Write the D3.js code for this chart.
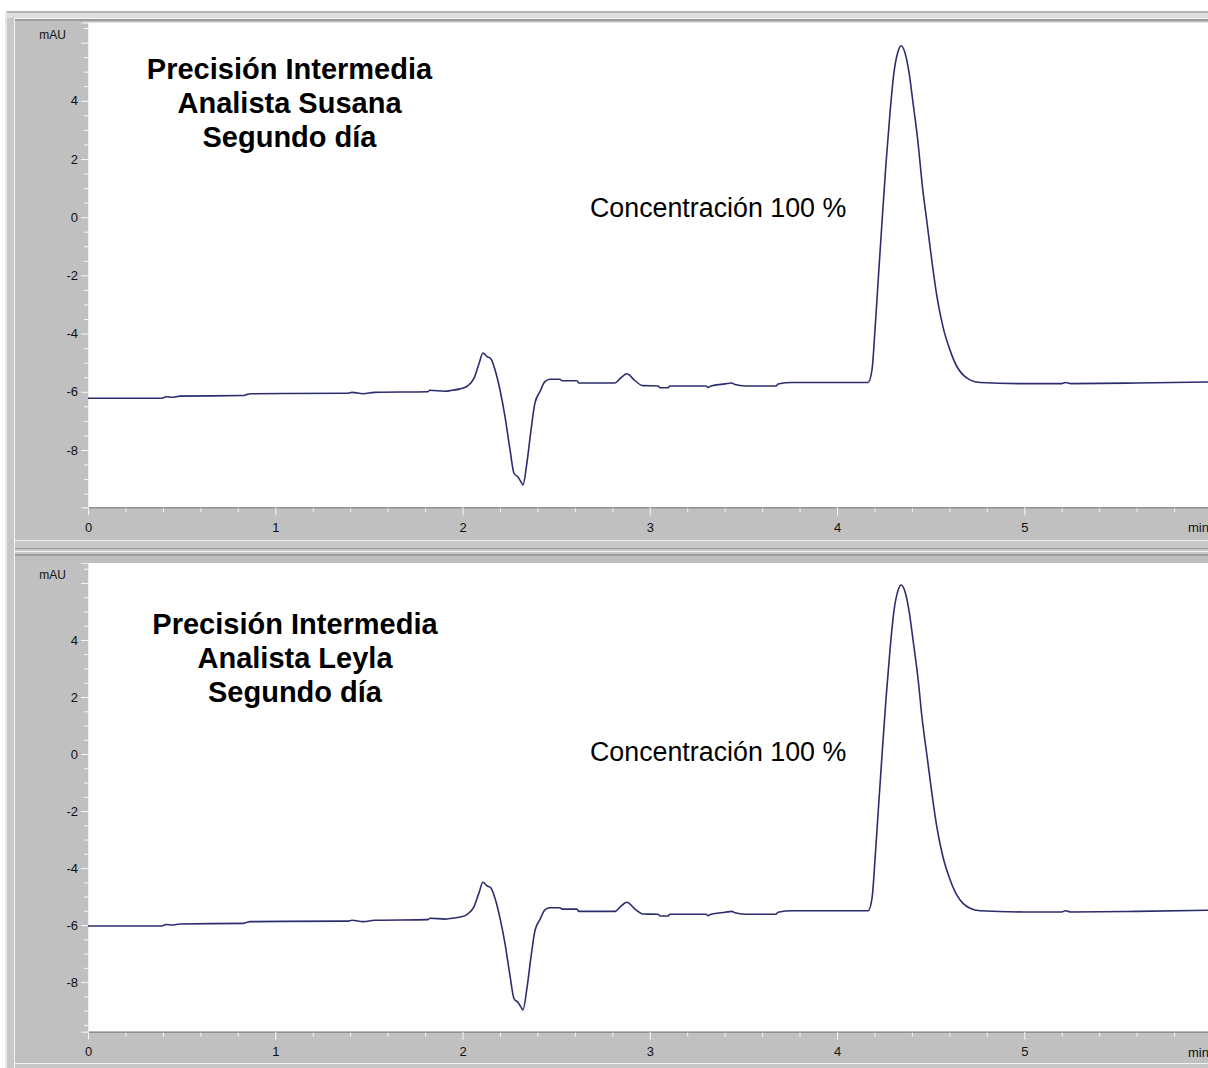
<!DOCTYPE html>
<html>
<head>
<meta charset="utf-8">
<script src="https://cdn.jsdelivr.net/npm/d3@7"></script>
<style>
  body { margin: 0; background: #fff; overflow: hidden; }
  svg { display: block; }
</style>
</head>
<body>
<svg id="chart" width="1208" height="1068"></svg>
<script>
// Retention time (min) shared by both chromatograms
const timeMin = [
  0, 0.395, 0.416, 0.449, 0.491, 0.828, 0.85, 0.866, 1.389, 1.41,
  1.47, 1.53, 1.815, 1.826, 1.906, 1.944, 1.987, 2.024, 2.061, 2.088,
  2.109, 2.131, 2.152, 2.174, 2.2, 2.227, 2.254, 2.275, 2.296, 2.312,
  2.323, 2.344, 2.366, 2.387, 2.414, 2.44, 2.467, 2.52, 2.531, 2.611,
  2.622, 2.814, 2.841, 2.878, 2.921, 2.964, 3.044, 3.055, 3.098, 3.108,
  3.3, 3.311, 3.327, 3.402, 3.439, 3.455, 3.509, 3.674, 3.685, 3.76,
  4.166, 4.187, 4.203, 4.219, 4.24, 4.262, 4.283, 4.304, 4.326, 4.342,
  4.363, 4.385, 4.406, 4.433, 4.454, 4.481, 4.508, 4.534, 4.566, 4.603,
  4.641, 4.673, 4.71, 4.764, 5.0, 5.2, 5.22, 5.25, 5.6, 6.0
];

// Detector signal (mAU), analyst Susana
const susanaMAU = [
  -6.22, -6.22, -6.17, -6.19, -6.15, -6.13, -6.09, -6.07, -6.05, -6.02,
  -6.07, -6.02, -6.00, -5.95, -5.98, -5.95, -5.90, -5.81, -5.54, -5.04,
  -4.67, -4.79, -4.87, -5.25, -5.93, -6.85, -8.00, -8.80, -8.93, -9.09,
  -9.20, -8.44, -7.31, -6.38, -5.99, -5.65, -5.57, -5.57, -5.62, -5.62,
  -5.70, -5.70, -5.55, -5.38, -5.62, -5.79, -5.80, -5.86, -5.86, -5.80,
  -5.80, -5.85, -5.80, -5.73, -5.70, -5.75, -5.80, -5.80, -5.73, -5.68,
  -5.68, -5.24, -3.87, -2.26, -0.20, 1.87, 3.58, 4.96, 5.69, 5.89,
  5.65, 4.96, 3.93, 2.55, 1.18, -0.20, -1.57, -2.74, -3.77, -4.56,
  -5.14, -5.42, -5.59, -5.68, -5.72, -5.72, -5.68, -5.72, -5.70, -5.66
];

// Detector signal (mAU), analyst Leyla
const leylaMAU = [
  -6.03, -6.03, -5.98, -6.00, -5.96, -5.94, -5.90, -5.88, -5.86, -5.83,
  -5.88, -5.83, -5.81, -5.76, -5.79, -5.76, -5.72, -5.63, -5.36, -4.87,
  -4.50, -4.62, -4.70, -5.07, -5.75, -6.65, -7.79, -8.58, -8.71, -8.87,
  -8.98, -8.22, -7.11, -6.19, -5.80, -5.47, -5.39, -5.39, -5.44, -5.44,
  -5.52, -5.52, -5.37, -5.20, -5.44, -5.61, -5.62, -5.68, -5.68, -5.62,
  -5.62, -5.67, -5.62, -5.55, -5.52, -5.57, -5.62, -5.62, -5.55, -5.50,
  -5.50, -5.06, -3.71, -2.12, -0.08, 1.96, 3.65, 5.01, 5.74, 5.93,
  5.70, 5.01, 4.00, 2.63, 1.28, -0.08, -1.44, -2.59, -3.61, -4.39,
  -4.96, -5.24, -5.41, -5.50, -5.54, -5.54, -5.50, -5.54, -5.52, -5.48
];

// Axis ticks and labels
const xMajorTicks = [0, 1, 2, 3, 4, 5, 6];
const yMajorTicks = [-8, -6, -4, -2, 0, 2, 4, 6];
const xUnitLabel = "min";
const yUnitLabel = "mAU";

// Annotation text for each chromatogram
const susanaTitle = ["Precisión Intermedia", "Analista Susana", "Segundo día"];
const leylaTitle = ["Precisión Intermedia", "Analista Leyla", "Segundo día"];
const concentrationLabel = "Concentración 100 %";

const W = 1208, H = 1068;
const PANEL_GRAY = "#c0c0c0";
const TRACE = "#2c2c6e";
const TICK_FONT = "'Liberation Sans', Arial, sans-serif";

const panels = [
  { values: susanaMAU, title: susanaTitle, grayTop: 21, grayBottom: 540,
    plotTop: 22.5, plotBottom: 507.3, yDomain: [-9.97, 6.69],
    titleX: 289.5, titleY: 79, concY: 217 },
  { values: leylaMAU, title: leylaTitle, grayTop: 556, grayBottom: 1063,
    plotTop: 563, plotBottom: 1031.7, yDomain: [-9.74, 6.70],
    titleX: 295, titleY: 634, concY: 761 }
];

const svg = d3.select("#chart");
const defs = svg.append("defs");

// Window chrome: outer border and separators
svg.append("rect").attr("x", 0).attr("y", 0).attr("width", W).attr("height", H).attr("fill", "#fff");
svg.append("rect").attr("x", 5).attr("y", 11).attr("width", W - 5).attr("height", H - 11).attr("fill", "#c8c8c8");
svg.append("rect").attr("x", 5).attr("y", 11).attr("width", W - 5).attr("height", 2).attr("fill", "#b4b4b4");
svg.append("rect").attr("x", 5).attr("y", 13).attr("width", W - 5).attr("height", 5).attr("fill", "#dedede");
svg.append("rect").attr("x", 5).attr("y", 11).attr("width", 2).attr("height", H - 11).attr("fill", "#e6e6e6");
svg.append("rect").attr("x", 14).attr("y", 18).attr("width", 1).attr("height", H - 18).attr("fill", "#f4f4f4");
svg.append("rect").attr("x", 14).attr("y", 18).attr("width", W - 14).attr("height", 1).attr("fill", "#f4f4f4");
svg.append("rect").attr("x", 15).attr("y", 19).attr("width", W - 15).attr("height", 2).attr("fill", "#9c9c9c");
svg.append("rect").attr("x", 15).attr("y", 548).attr("width", W - 15).attr("height", 1).attr("fill", "#9c9c9c");
svg.append("rect").attr("x", 15).attr("y", 551).attr("width", W - 15).attr("height", 1).attr("fill", "#f4f4f4");
svg.append("rect").attr("x", 15).attr("y", 554).attr("width", W - 15).attr("height", 2).attr("fill", "#9c9c9c");

panels.forEach((p, i) => {
  const g = svg.append("g");
  const x = d3.scaleLinear().domain([0, 6]).range([88, 88 + 6 * 187.25]);
  const y = d3.scaleLinear().domain(p.yDomain).range([p.plotBottom, p.plotTop]);

  // Axis frame and plotting area
  g.append("rect").attr("x", 15).attr("y", p.grayTop).attr("width", W - 15)
    .attr("height", p.grayBottom - p.grayTop).attr("fill", PANEL_GRAY);
  g.append("rect").attr("x", 15).attr("y", p.grayBottom).attr("width", W - 15)
    .attr("height", 1).attr("fill", "#f2f2f2");
  g.append("rect").attr("x", 88).attr("y", p.plotTop).attr("width", W - 88)
    .attr("height", p.plotBottom - p.plotTop).attr("fill", "#fff");

  // X axis: minor ticks every 0.2 min, labelled majors every minute
  const xMinor = d3.range(0, 6.01, 0.2).filter(v => Math.abs(v - Math.round(v)) > 1e-6);
  const xAxisMinor = g.append("g").attr("transform", `translate(0,${p.plotBottom})`)
    .call(d3.axisBottom(x).tickValues(xMinor).tickSize(5).tickFormat(""));
  const xAxis = g.append("g").attr("transform", `translate(0,${p.plotBottom})`)
    .call(d3.axisBottom(x).tickValues(xMajorTicks).tickSize(8).tickPadding(7)
      .tickFormat(d => d === 6 ? "" : String(d)));
  [xAxisMinor, xAxis].forEach(a => {
    a.select(".domain").attr("stroke", "#8c8c8c");
    a.selectAll(".tick line").attr("stroke", "#f6f6f6");
  });
  xAxis.selectAll(".tick text").attr("fill", "#111")
    .style("font-family", TICK_FONT).style("font-size", "13px");
  g.append("text").attr("x", 1188).attr("y", p.plotBottom + 25)
    .attr("fill", "#111").style("font-family", TICK_FONT)
    .style("font-size", "13px").text(xUnitLabel);

  // Y axis: minor ticks every 0.5 mAU, labelled majors on even values
  const yMinor = d3.range(-9.5, 6.6, 0.5).filter(v => !yMajorTicks.includes(v));
  const yAxisMinor = g.append("g").attr("transform", "translate(88,0)")
    .call(d3.axisLeft(y).tickValues(yMinor).tickSize(4).tickFormat(""));
  const yAxis = g.append("g").attr("transform", "translate(88,0)")
    .call(d3.axisLeft(y).tickValues(yMajorTicks).tickSize(7).tickPadding(3)
      .tickFormat(d => d === 6 ? "" : String(d)));
  [yAxisMinor, yAxis].forEach(a => {
    a.select(".domain").attr("stroke", "#ececec");
    a.selectAll(".tick line").attr("stroke", "#f6f6f6");
  });
  yAxis.selectAll(".tick text").attr("fill", "#111")
    .style("font-family", TICK_FONT).style("font-size", "13px");
  g.append("text").attr("x", 66).attr("y", y(6) - 3.5).attr("text-anchor", "end")
    .attr("fill", "#111").style("font-family", TICK_FONT)
    .style("font-size", "12px").text(yUnitLabel);

  // Chromatogram trace
  const clipId = `plot-clip-${i}`;
  defs.append("clipPath").attr("id", clipId).append("rect")
    .attr("x", 88).attr("y", p.plotTop).attr("width", W - 88).attr("height", p.plotBottom - p.plotTop);
  const line = d3.line().x((d, k) => x(timeMin[k])).y(d => y(d)).curve(d3.curveMonotoneX);
  g.append("path").datum(p.values).attr("clip-path", `url(#${clipId})`)
    .attr("d", line).attr("fill", "none").attr("stroke", TRACE)
    .attr("stroke-width", 1.6).attr("stroke-linejoin", "round");

  // Annotations
  const title = g.append("text").attr("text-anchor", "middle")
    .style("font-family", "'Liberation Sans', Arial, sans-serif")
    .style("font-size", "29px").style("font-weight", "bold").attr("fill", "#000");
  p.title.forEach((t, k) => {
    title.append("tspan").attr("x", p.titleX).attr("y", p.titleY + k * 34).text(t);
  });
  g.append("text").attr("x", 590).attr("y", p.concY)
    .style("font-family", "'Liberation Sans', Arial, sans-serif")
    .style("font-size", "26.8px").attr("fill", "#000").text(concentrationLabel);
});
</script>
</body>
</html>
